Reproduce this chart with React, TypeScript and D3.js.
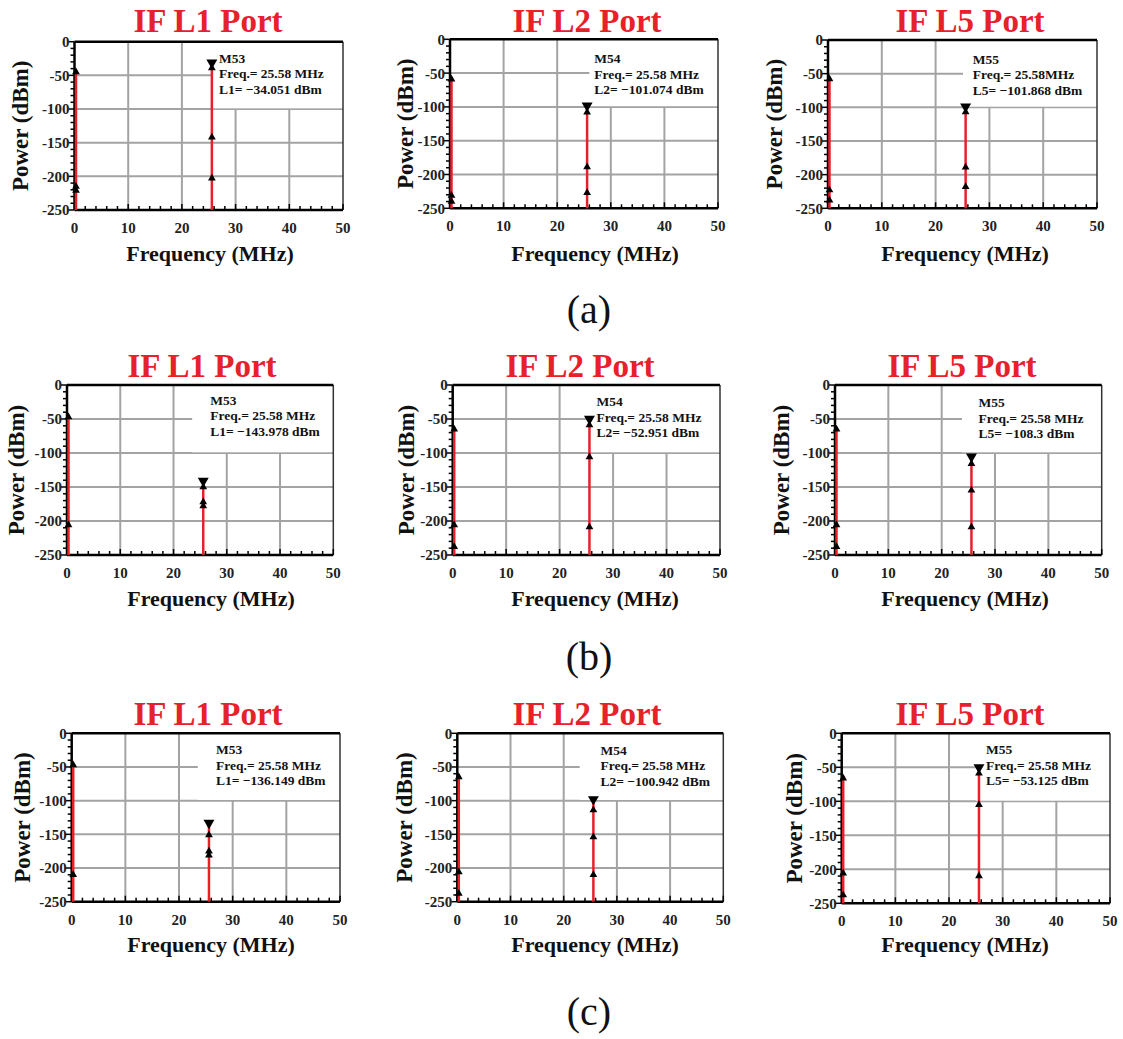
import React from "react";
import * as d3 from "d3";

// ---------- data ----------
const ROW_LABELS = ["(a)", "(b)", "(c)"];
const PORTS = ["L1", "L2", "L5"];
const MARKER_IDS = ["M53", "M54", "M55"];
const IF_FREQ = 25.58;
const X_TICKS = [0, 10, 20, 30, 40, 50];
const Y_TICKS = [0, -50, -100, -150, -200, -250];
// marker readouts, row-major (a1,a2,a3,b1,...)
const MARKER_VALUES = [-34.051, -101.074, -101.868, -143.978, -52.951, -108.3, -136.149, -100.942, -53.125];
const MARKER_FREQ_TEXT = ["25.58 MHz", "25.58 MHz", "25.58MHz", "25.58 MHz", "25.58 MHz", "25.58 MHz", "25.58 MHz", "25.58 MHz", "25.58 MHz"];
// spectral points at DC (0 MHz)
const DC_POINTS = [
  [-42, -212, -218],
  [-56, -228, -237],
  [-55, -220, -235],
  [-44, -203],
  [-62, -203, -235],
  [-62, -203, -235],
  [-44, -207],
  [-62, -203, -235],
  [-63, -203, -235],
];
// spectral points at the IF frequency
const IF_POINTS = [
  [-36, -139, -200],
  [-105, -186, -224],
  [-104, -186, -215],
  [-147, -169, -175],
  [-56, -103, -206],
  [-113, -152, -206],
  [-148, -172, -178],
  [-111, -151, -207],
  [-56, -102, -207],
];

// ---------- layout ----------
const PLOTS = [
  { l: 74.5, r: 343, t: 41.7, b: 210, tx: 208, xl: 210, yl: 20, box: 25.8 },
  { l: 450, r: 718, t: 39.3, b: 208.3, tx: 587, xl: 595, yl: 405, box: 26 },
  { l: 828, r: 1097, t: 40, b: 208.3, tx: 970, xl: 965, yl: 774, box: 25.1 },
  { l: 67, r: 333.3, t: 385, b: 555, tx: 202, xl: 211, yl: 16, box: 23.5 },
  { l: 452.7, r: 720, t: 385, b: 555, tx: 580, xl: 595, yl: 406, box: 25.2 },
  { l: 835, r: 1101.7, t: 385, b: 555, tx: 962, xl: 965, yl: 781, box: 23.8 },
  { l: 71.7, r: 340, t: 733.3, b: 901.7, tx: 208, xl: 211, yl: 22, box: 23.5 },
  { l: 457.3, r: 723.3, t: 733.3, b: 901.7, tx: 587, xl: 595, yl: 404, box: 23 },
  { l: 841.7, r: 1110, t: 733.3, b: 903.3, tx: 970, xl: 965, yl: 794, box: 25 },
];
const TITLE_Y = [32, 377, 725];
const XLABEL_Y = [261, 606, 952];
const ROWLABEL_Y = [323, 670, 1025];
const LABEL_Y_DBM = [-31, -35.5, -35, -29, -31, -33, -31, -32, -31];

const FONT = "'Liberation Serif', 'Times New Roman', serif";
const RED = "#e8202a";
const GRID = "#a3a3a3";

const upTri = d3.symbol(d3.symbolTriangle, 26)()!;
const downTri = d3.symbol(d3.symbolTriangle, 52)()!;

function Panel({ idx }: { idx: number }) {
  const row = Math.floor(idx / 3);
  const col = idx % 3;
  const p = PLOTS[idx];
  const x = d3.scaleLinear().domain([0, 50]).range([p.l, p.r]);
  const y = d3.scaleLinear().domain([-250, 0]).range([p.b, p.t]);
  const mv = MARKER_VALUES[idx];
  const dc = DC_POINTS[idx];
  const ifp = IF_POINTS[idx];
  const dcTop = d3.max(dc)!;
  const yMinor = d3.range(-250, 1, 10);
  const xMinor = d3.range(0, 51, 2);
  const lx = x(26.9);
  const ly = y(LABEL_Y_DBM[idx]);
  return (
    <g>
      <text x={p.tx} y={TITLE_Y[row]} textAnchor="middle" fontFamily={FONT} fontWeight="bold" fontSize={33} fill={RED}>
        {`IF ${PORTS[col]} Port`}
      </text>
      {/* grid */}
      {[-50, -100, -150, -200].map((v) => (
        <line key={"h" + v} x1={p.l} x2={p.r} y1={y(v)} y2={y(v)} stroke={GRID} strokeWidth={2} />
      ))}
      {[10, 20, 30, 40].map((v) => (
        <line key={"v" + v} x1={x(v)} x2={x(v)} y1={p.t} y2={p.b} stroke={GRID} strokeWidth={2} />
      ))}
      {/* marker readout background */}
      <rect x={x(p.box)} y={p.t} width={p.r - x(p.box)} height={y(-99) - p.t} fill="#fff" />
      {/* frame */}
      <line x1={p.r} x2={p.r} y1={p.t} y2={p.b} stroke="#333" strokeWidth={1.5} />
      <line x1={p.l} x2={p.r} y1={p.t} y2={p.t} stroke="#000" strokeWidth={2.5} />
      <line x1={p.l} x2={p.r} y1={p.b} y2={p.b} stroke="#000" strokeWidth={2.5} />
      <line x1={p.l} x2={p.l} y1={p.t} y2={p.b} stroke="#000" strokeWidth={2.5} />
      {yMinor.map((v) => (
        <line key={"ym" + v} x1={p.l - (v % 50 === 0 ? 6 : 4)} x2={p.l} y1={y(v)} y2={y(v)} stroke="#000" strokeWidth={1.5} />
      ))}
      {xMinor.map((v) => (
        <line key={"xm" + v} x1={x(v)} x2={x(v)} y1={p.b} y2={p.b - (v % 10 === 0 ? 6 : 4)} stroke="#000" strokeWidth={1.5} />
      ))}
      {Y_TICKS.map((v) => (
        <text key={"yt" + v} x={p.l - 5} y={y(v)} dy="0.36em" textAnchor="end" fontFamily={FONT} fontWeight="bold" fontSize={15} fill="#222">
          {v}
        </text>
      ))}
      {X_TICKS.map((v) => (
        <text key={"xt" + v} x={x(v)} y={p.b + 23} textAnchor="middle" fontFamily={FONT} fontWeight="bold" fontSize={15} fill="#222">
          {v}
        </text>
      ))}
      {/* stems */}
      <line x1={x(0) + 1.5} x2={x(0) + 1.5} y1={p.b} y2={y(dcTop)} stroke={RED} strokeWidth={2.5} />
      <line x1={x(IF_FREQ)} x2={x(IF_FREQ)} y1={p.b} y2={y(mv)} stroke={RED} strokeWidth={2.5} />
      {dc.map((v, i) => (
        <path key={"dc" + i} d={upTri} transform={`translate(${x(0) + 1.5},${y(v) + 2})`} fill="#000" />
      ))}
      {ifp.map((v, i) => (
        <path key={"if" + i} d={upTri} transform={`translate(${x(IF_FREQ)},${y(v) + 2})`} fill="#000" />
      ))}
      <path d={downTri} transform={`translate(${x(IF_FREQ)},${y(mv) - 2}) rotate(180)`} fill="#000" />
      {/* readout */}
      <text fontFamily={FONT} fontWeight="bold" fontSize={13.5} fill="#111">
        <tspan x={lx} y={ly}>{MARKER_IDS[col]}</tspan>
        <tspan x={lx} y={ly + 15.5}>{`Freq.= ${MARKER_FREQ_TEXT[idx]}`}</tspan>
        <tspan x={lx} y={ly + 31}>{`${PORTS[col]}= \u2212${Math.abs(mv)} dBm`}</tspan>
      </text>
      {/* axis titles */}
      <text x={p.xl} y={XLABEL_Y[row]} textAnchor="middle" fontFamily={FONT} fontWeight="bold" fontSize={22} fill="#111">
        Frequency (MHz)
      </text>
      <text
        transform={`translate(${p.yl},${(p.t + p.b) / 2}) rotate(-90)`}
        dy="0.35em"
        textAnchor="middle"
        fontFamily={FONT}
        fontWeight="bold"
        fontSize={23}
        fill="#111"
      >
        Power (dBm)
      </text>
    </g>
  );
}

export default function App() {
  return (
    <svg
      width={1123}
      height={1039}
      style={{ position: "absolute", left: 0, top: 0, background: "#fff" }}
    >
      <rect width={1123} height={1039} fill="#fff" />
      {d3.range(9).map((i) => (
        <Panel key={i} idx={i} />
      ))}
      {ROW_LABELS.map((t, i) => (
        <text key={t} x={589} y={ROWLABEL_Y[i]} textAnchor="middle" fontFamily={FONT} fontSize={40} fill="#111">
          {t}
        </text>
      ))}
    </svg>
  );
}
